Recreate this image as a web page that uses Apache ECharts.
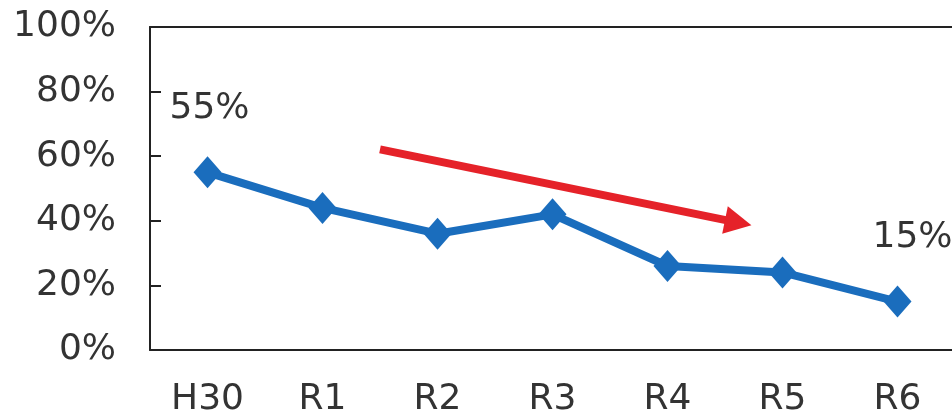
<!DOCTYPE html>
<html>
<head>
<meta charset="utf-8">
<script src="https://cdn.jsdelivr.net/npm/echarts@6/dist/echarts.min.js"></script>
<style>
html,body{margin:0;padding:0;background:#fff;}
#main{width:952px;height:417px;}
</style>
</head>
<body>
<div id="main"></div>
<script>
const categories = ['H30', 'R1', 'R2', 'R3', 'R4', 'R5', 'R6'];
const values = [55, 44, 36, 42, 26, 24, 15];
const labeledIndices = [0, 6];
const yTicks = [0, 20, 40, 60, 80, 100];
// trend arrow annotation in data space: [category index, percent]
const arrowStart = [1.5, 62.1];
const arrowEnd = [4.73, 38.6];

const chart = echarts.init(document.getElementById('main'));
const font = 'DejaVu Sans';
const txt = '#333333';

chart.setOption({
  animation: false,
  backgroundColor: '#ffffff',
  grid: { left: 150, right: -3, top: 27, bottom: 67, containLabel: false, outerBoundsMode: 'none' },
  xAxis: [{
    type: 'category',
    data: categories,
    boundaryGap: true,
    axisLine: { lineStyle: { color: '#222', width: 2 } },
    axisTick: { inside: true, length: 11, lineStyle: { color: '#222', width: 2 } },
    axisLabel: { color: txt, fontFamily: font, fontSize: 36, margin: 32 }
  }, {
    type: 'category',
    data: categories,
    position: 'top',
    axisLine: { show: true, onZero: false, lineStyle: { color: '#222', width: 2 } },
    axisTick: { show: false },
    axisLabel: { show: false }
  }],
  yAxis: {
    type: 'value',
    min: yTicks[0],
    max: yTicks[yTicks.length - 1],
    interval: 20,
    splitLine: { show: false },
    axisLine: { show: true, lineStyle: { color: '#222', width: 2 } },
    axisTick: { show: true, inside: true, length: 11, lineStyle: { color: '#222', width: 2 } },
    axisLabel: { color: txt, fontFamily: font, fontSize: 36, margin: 34, formatter: '{value}%' }
  },
  series: [{
    type: 'line',
    data: values.map((v, i) => ({
      value: v,
      label: labeledIndices.includes(i) ? {
        show: true,
        formatter: v + '%',
        position: 'top',
        distance: 30,
        offset: i === 6 ? [15, 0] : [2, 0],
        color: txt, fontFamily: font, fontSize: 36
      } : { show: false }
    })),
    symbol: 'diamond',
    symbolSize: [28, 32],
    lineStyle: { color: '#1a6dbd', width: 8 },
    itemStyle: { color: '#1a6dbd' }
  }]
});

function drawArrow() {
  const p0 = chart.convertToPixel({ gridIndex: 0 }, [0, 0]);
  const p1 = chart.convertToPixel({ gridIndex: 0 }, [1, 0]);
  const step = p1[0] - p0[0];
  const toPx = (pt) => {
    const y = chart.convertToPixel({ yAxisIndex: 0 }, pt[1]);
    return [p0[0] + step * pt[0], y];
  };
  const s = toPx(arrowStart);
  const e = toPx(arrowEnd);
  const dx = e[0] - s[0], dy = e[1] - s[1];
  const len = Math.sqrt(dx * dx + dy * dy);
  const ux = dx / len, uy = dy / len;
  const headLen = 27, headW = 14;
  const bx = e[0] - ux * headLen, by = e[1] - uy * headLen;
  const nx = -uy, ny = ux;
  chart.setOption({
    graphic: [
      { type: 'line', shape: { x1: s[0], y1: s[1], x2: bx + ux * 2, y2: by + uy * 2 }, style: { stroke: '#e52229', lineWidth: 8 }, z: 100 },
      { type: 'polygon', shape: { points: [[e[0], e[1]], [bx + nx * headW, by + ny * headW], [bx - nx * headW, by - ny * headW]] }, style: { fill: '#e52229' }, z: 100 }
    ]
  });
}
drawArrow();
</script>
</body>
</html>
